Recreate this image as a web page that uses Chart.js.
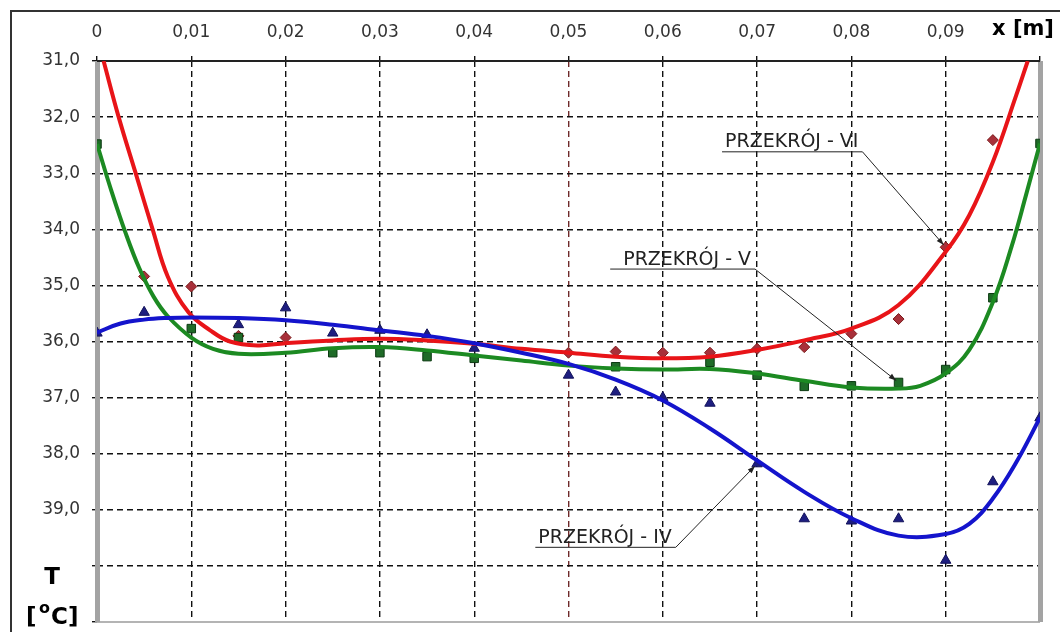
<!DOCTYPE html>
<html>
<head>
<meta charset="utf-8">
<script src="https://cdn.jsdelivr.net/npm/chart.js@4/dist/chart.umd.min.js"></script>
<style>
  html, body { margin: 0; padding: 0; background: #fff; }
  canvas { display: block; }
</style>
</head>
<body>
<canvas id="profile" width="1060" height="632"></canvas>
<script>
// axis ticks
const xTicks = [0, 0.01, 0.02, 0.03, 0.04, 0.05, 0.06, 0.07, 0.08, 0.09, 0.1];
const yTicks = [31, 32, 33, 34, 35, 36, 37, 38, 39, 40, 41];

// measured points
const pointsIVx = [0, 0.005, 0.015, 0.02, 0.025, 0.03, 0.035, 0.04, 0.05, 0.055, 0.06, 0.065, 0.07, 0.075, 0.08, 0.085, 0.09, 0.095, 0.1];
const pointsIVy = [35.85, 35.48, 35.7, 35.4, 35.85, 35.8, 35.88, 36.12, 36.6, 36.9, 37.0, 37.1, 38.18, 39.16, 39.2, 39.16, 39.9, 38.5, 37.36];

const pointsVx = [0, 0.01, 0.015, 0.025, 0.03, 0.035, 0.04, 0.055, 0.065, 0.07, 0.075, 0.08, 0.085, 0.09, 0.095, 0.1];
const pointsVy = [32.48, 35.77, 35.93, 36.2, 36.2, 36.27, 36.3, 36.45, 36.37, 36.6, 36.8, 36.79, 36.73, 36.5, 35.22, 32.47];

const pointsVIx = [0.005, 0.01, 0.015, 0.02, 0.05, 0.055, 0.06, 0.065, 0.07, 0.075, 0.08, 0.085, 0.09, 0.095];
const pointsVIy = [34.84, 35.02, 35.9, 35.93, 36.2, 36.18, 36.2, 36.2, 36.13, 36.1, 35.86, 35.6, 34.32, 32.41];

// fitted trend curves
const curveIVx = [0, 0.0025, 0.005, 0.0075, 0.01, 0.015, 0.02, 0.025, 0.03, 0.035, 0.04, 0.045, 0.05, 0.055, 0.06, 0.065, 0.07, 0.075, 0.08, 0.085, 0.09, 0.0925, 0.095, 0.0975, 0.1];
const curveIVy = [35.84, 35.68, 35.61, 35.58, 35.57, 35.58, 35.62, 35.7, 35.8, 35.9, 36.03, 36.2, 36.4, 36.68, 37.05, 37.55, 38.12, 38.68, 39.15, 39.46, 39.43, 39.25, 38.8, 38.15, 37.36];

const curveVx = [0, 0.0015, 0.003, 0.0045, 0.006, 0.0075, 0.01, 0.0123, 0.015, 0.02, 0.025, 0.03, 0.035, 0.04, 0.045, 0.05, 0.055, 0.06, 0.065, 0.07, 0.075, 0.08, 0.085, 0.0873, 0.09, 0.0925, 0.095, 0.097, 0.0985, 0.1];
const curveVy = [32.48, 33.3, 34.05, 34.7, 35.2, 35.55, 35.93, 36.13, 36.22, 36.2, 36.12, 36.1, 36.16, 36.25, 36.34, 36.43, 36.48, 36.5, 36.49, 36.57, 36.7, 36.82, 36.84, 36.79, 36.57, 36.15, 35.3, 34.3, 33.4, 32.47];

const curveVIx = [0.0007, 0.0023, 0.0041, 0.0059, 0.0075, 0.0097, 0.012, 0.0141, 0.017, 0.02, 0.025, 0.03, 0.035, 0.04, 0.045, 0.05, 0.055, 0.06, 0.065, 0.07, 0.075, 0.08, 0.085, 0.09, 0.0925, 0.095, 0.0975, 0.0987];
const curveVIy = [31.0, 32.0, 33.0, 34.0, 34.84, 35.48, 35.8, 36.0, 36.07, 36.03, 35.98, 35.95, 35.98, 36.04, 36.13, 36.2, 36.27, 36.3, 36.27, 36.15, 35.98, 35.77, 35.35, 34.4, 33.75, 32.8, 31.6, 31.0];

const sectionNames = ['PRZEKRÓJ - IV', 'PRZEKRÓJ - V', 'PRZEKRÓJ - VI'];

const toXY = (xs, ys) => xs.map((x, i) => ({ x: x, y: ys[i] }));
const fmt = (v, d) => v.toFixed(d).replace('.', ',');

// label placement (data units) and the marker each leader points to
const callouts = [
    { text: sectionNames[2], x: 0.0666, y: 32.61, lead: 3, target: { x: pointsVIx[12], y: pointsVIy[12] } },
    { text: sectionNames[1], x: 0.0558, y: 34.70, lead: 13, target: { x: pointsVx[12], y: pointsVy[12] } },
    { text: sectionNames[0], x: 0.0468, y: 39.66, lead: 3, target: { x: pointsIVx[12], y: pointsIVy[12] } }
];

const frame = {
    id: 'frame',
    beforeDatasetsDraw(chart) {
        const { ctx, chartArea: a } = chart;
        ctx.save();
        // outer box
        ctx.strokeStyle = '#333';
        ctx.lineWidth = 2;
        ctx.beginPath();
        ctx.moveTo(11, 632);
        ctx.lineTo(11, 11);
        ctx.lineTo(1060, 11);
        ctx.stroke();
        // bottom edge
        ctx.strokeStyle = '#b4b4b4';
        ctx.lineWidth = 2;
        ctx.beginPath();
        ctx.moveTo(a.left, a.bottom);
        ctx.lineTo(a.right, a.bottom);
        ctx.stroke();
        // side walls
        ctx.fillStyle = '#a3a3a3';
        ctx.fillRect(a.left - 2, a.top, 5, a.bottom - a.top);
        ctx.fillRect(a.right - 2, a.top, 5, a.bottom - a.top);
        // top edge
        ctx.strokeStyle = '#222';
        ctx.lineWidth = 2;
        ctx.beginPath();
        ctx.moveTo(a.left, a.top);
        ctx.lineTo(a.right, a.top);
        ctx.stroke();
        ctx.restore();
    },
    afterDraw(chart) {
        const { ctx } = chart;
        const xs = chart.scales.x, ys = chart.scales.y;
        ctx.save();

        // callouts
        ctx.font = '19px "DejaVu Sans", sans-serif';
        ctx.textBaseline = 'alphabetic';
        callouts.forEach(c => {
            const px = xs.getPixelForValue(c.x);
            const py = ys.getPixelForValue(c.y);
            const w = ctx.measureText(c.text).width;
            ctx.fillStyle = '#222';
            ctx.fillText(c.text, px, py - 4);
            const endX = px + w + 4;
            const tx = xs.getPixelForValue(c.target.x);
            const ty = ys.getPixelForValue(c.target.y);
            const ang = Math.atan2(ty - py, tx - endX);
            const tipX = tx - Math.cos(ang) * 3;
            const tipY = ty - Math.sin(ang) * 3;
            ctx.strokeStyle = '#222';
            ctx.lineWidth = 1;
            ctx.beginPath();
            ctx.moveTo(px - c.lead, py + 0.5);
            ctx.lineTo(endX, py + 0.5);
            ctx.lineTo(tipX, tipY);
            ctx.stroke();
            // arrow head
            ctx.fillStyle = '#222';
            ctx.beginPath();
            ctx.moveTo(tipX, tipY);
            ctx.lineTo(tipX - Math.cos(ang - 0.35) * 8, tipY - Math.sin(ang - 0.35) * 8);
            ctx.lineTo(tipX - Math.cos(ang + 0.35) * 8, tipY - Math.sin(ang + 0.35) * 8);
            ctx.closePath();
            ctx.fill();
        });

        // axis titles
        ctx.fillStyle = '#000';
        ctx.font = 'bold 21px "DejaVu Sans", sans-serif';
        ctx.textAlign = 'center';
        ctx.textBaseline = 'middle';
        ctx.fillText('x [m]', 1023, 30);
        ctx.font = 'bold 23px "DejaVu Sans", sans-serif';
        ctx.fillText('T', 52, 578);
        ctx.textAlign = 'left';
        ctx.fillText('[', 26, 618);
        ctx.font = 'bold 16px "DejaVu Sans", sans-serif';
        ctx.fillText('o', 39, 609);
        ctx.font = 'bold 23px "DejaVu Sans", sans-serif';
        ctx.fillText('C]', 51, 618);
        ctx.restore();
    }
};

const gridColor = ctx => (ctx.tick && Math.abs(ctx.tick.value - 0.05) < 1e-9) ? '#6e2a2a' : '#111';

const trend = (label, pts, color, order) => ({
    label: label,
    data: pts,
    showLine: true,
    borderColor: color,
    borderWidth: 4,
    pointRadius: 0,
    tension: 0.4,
    order: order
});

new Chart(document.getElementById('profile'), {
    type: 'scatter',
    data: {
        datasets: [
            trend(sectionNames[0] + ' trend', toXY(curveIVx, curveIVy), '#1414cc', 0),
            trend(sectionNames[2] + ' trend', toXY(curveVIx, curveVIy), '#e81418', 1),
            trend(sectionNames[1] + ' trend', toXY(curveVx, curveVy), '#1c8a22', 2),
            {
                label: sectionNames[0],
                data: toXY(pointsIVx, pointsIVy),
                pointStyle: 'triangle',
                pointRadius: 6,
                backgroundColor: '#1e1e80',
                borderColor: '#12125a',
                borderWidth: 1,
                order: 3
            },
            {
                label: sectionNames[1],
                data: toXY(pointsVx, pointsVy),
                pointStyle: 'rect',
                pointRadius: 6,
                backgroundColor: '#1f6b28',
                borderColor: '#0c3a12',
                borderWidth: 1,
                order: 4
            },
            {
                label: sectionNames[2],
                data: toXY(pointsVIx, pointsVIy),
                pointStyle: 'rectRot',
                pointRadius: 5.5,
                backgroundColor: '#a8303a',
                borderColor: '#7a1a1a',
                borderWidth: 1,
                order: 5
            }
        ]
    },
    options: {
        responsive: false,
        animation: false,
        devicePixelRatio: 1,
        layout: { padding: { left: 0, right: 20, top: 0, bottom: 10 } },
        plugins: {
            legend: { display: false },
            tooltip: { enabled: false }
        },
        scales: {
            x: {
                type: 'linear',
                position: 'top',
                min: 0,
                max: 0.1,
                afterBuildTicks: s => { s.ticks = xTicks.map(v => ({ value: v })); },
                afterFit: s => {
                    s.height = 61;
                    s.paddingLeft = 0;
                    s.paddingRight = 0;
                },
                grid: {
                    color: gridColor,
                    lineWidth: 1.4,
                    tickLength: 5,
                    tickColor: '#111',
                    tickBorderDash: []
                },
                border: { display: false, dash: [6, 4] },
                ticks: {
                    padding: 13,
                    color: '#333',
                    font: { family: '"DejaVu Sans", sans-serif', size: 17 },
                    callback: v => v === 0 ? '0' : (v >= 0.1 - 1e-9 ? '' : fmt(v, 2))
                }
            },
            y: {
                type: 'linear',
                reverse: true,
                min: 31,
                max: 41,
                afterBuildTicks: s => { s.ticks = yTicks.map(v => ({ value: v })); },
                afterFit: s => {
                    s.width = 97;
                    s.paddingTop = 0;
                    s.paddingBottom = 0;
                },
                grid: {
                    color: '#111',
                    lineWidth: 1.4,
                    tickLength: 5,
                    tickColor: '#111',
                    tickBorderDash: []
                },
                border: { display: false, dash: [6, 4] },
                ticks: {
                    padding: 12,
                    color: '#333',
                    font: { family: '"DejaVu Sans", sans-serif', size: 17 },
                    callback: v => v >= 40 ? '' : fmt(v, 1)
                }
            }
        }
    },
    plugins: [frame]
});
</script>
</body>
</html>
